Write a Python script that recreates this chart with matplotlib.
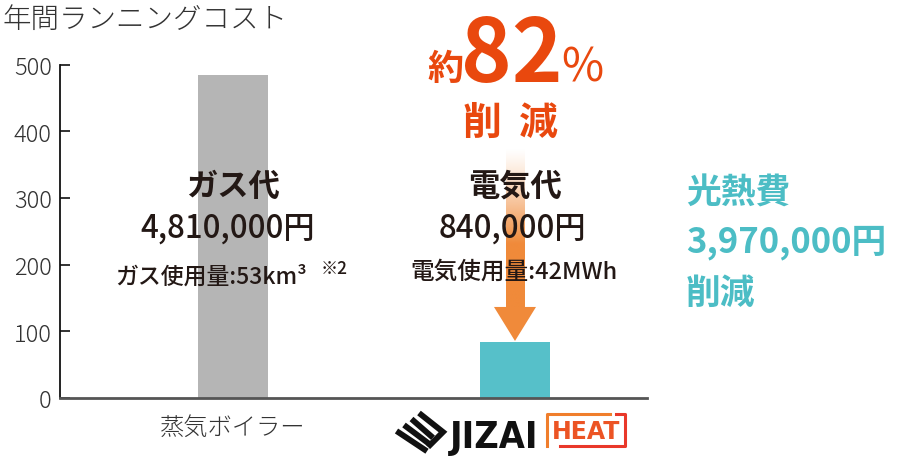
import matplotlib
matplotlib.use("Agg")
import matplotlib.pyplot as plt
import numpy as np
from matplotlib.patches import Polygon
from matplotlib.lines import Line2D

plt.rcParams['font.family'] = ['Noto Sans CJK JP', 'DejaVu Sans']

# ---- data ----
categories = ['蒸気ボイラー', 'JIZAI HEAT']
costs = [485, 84]              # 年間ランニングコスト (万円)
bar_colors = ['#b5b5b5', '#56c0c9']
yticks = [0, 100, 200, 300, 400, 500]
title = '年間ランニングコスト'
bar_titles = ['ガス代', '電気代']
bar_amounts = ['4,810,000円', '840,000円']
bar_usage = ['ガス使用量:53km³', '電気使用量:42MWh']
reduction_pct = '82'
saving_lines = ['光熱費', '3,970,000円', '削減']

W, H = 906, 460
fig = plt.figure(figsize=(W / 100, H / 100), dpi=100)

def P(x, y):
    return (x / W, 1 - y / H)

ax = fig.add_axes([60 / W, 1 - 399 / H, (647 - 60) / W, (399 - 65.5) / H])
x = np.arange(len(categories))
ax.bar(x, costs, width=0.25, color=bar_colors, zorder=2)
ax.set_xlim(-0.613, 1.468)
ax.set_ylim(0, 500)

for s in ['top', 'right']:
    ax.spines[s].set_visible(False)
ax.spines['left'].set_bounds(0, 500)
ax.spines['left'].set_linewidth(1.3)
ax.spines['left'].set_color('#111111')
ax.spines['bottom'].set_linewidth(2)
ax.spines['bottom'].set_color('#555555')
ax.spines['bottom'].set_zorder(3)

ax.set_yticks(yticks)
ax.tick_params(axis='y', direction='in', length=7, width=1.2, color='#111111',
               pad=6, labelsize=17, labelcolor='#333333')
for lab in ax.get_yticklabels():
    lab.set_fontweight('light')
ax.set_xticks([0, 1], [categories[0], ''])
ax.tick_params(axis='x', length=0, pad=12, labelsize=17.5, labelcolor='#333333')
for lab in ax.get_xticklabels():
    lab.set_fontweight('light')

# arrow (gradient shaft + head)
shaft_top = 373
head_base = 136
tip = costs[1] + 1.5
N = 200
grad = np.zeros((N, 1, 4))
grad[..., 0] = 0xf0 / 255
grad[..., 1] = 0x8a / 255
grad[..., 2] = 0x3a / 255
t = np.linspace(0, 1, N)
grad[:, 0, 3] = np.clip(t / 0.6, 0, 1) ** 1.2
ax.imshow(grad, extent=[1 - 0.032, 1 + 0.032, head_base, shaft_top],
          aspect='auto', origin='upper', zorder=3, interpolation='bilinear')
ax.add_patch(Polygon([(1 - 0.0745, head_base + 0.5), (1 + 0.0745, head_base + 0.5), (1, tip)],
                     closed=True, color='#f08a3a', zorder=3, lw=0))
ax.set_xlim(-0.613, 1.468)
ax.set_ylim(0, 500)

txt = '#231815'
# bar labels
ax.text(0, 318, bar_titles[0], ha='center', va='center', fontsize=22.5, fontweight='bold', color=txt, zorder=5)
ax.text(1, 318, bar_titles[1], ha='center', va='center', fontsize=22.5, fontweight='bold', color=txt, zorder=5)
ax.text(-0.02, 256, bar_amounts[0], ha='center', va='center', fontsize=22.5, fontweight='medium', color=txt, zorder=5)
ax.text(0.99, 256, bar_amounts[1], ha='center', va='center', fontsize=22.5, fontweight='medium', color=txt, zorder=5)

fig.text(*P(211, 277), bar_usage[0], ha='center', va='center', fontsize=16.5, fontweight='medium', color=txt, zorder=5)
fig.text(*P(321, 269), '※2', ha='left', va='center', fontsize=12.5, fontweight='medium', color=txt, zorder=5)
fig.text(*P(514, 272), bar_usage[1], ha='center', va='center', fontsize=17, fontweight='medium', color=txt, zorder=5)

# title
fig.text(*P(3, 20), title, ha='left', va='center', fontsize=20.5, fontweight='light', color='#333333')

# reduction
red = '#e9480e'
fig.text(*P(445, 80), '約', ha='center', va='baseline', fontsize=26, fontweight='bold', color=red)
fig.text(*P(512, 82), reduction_pct, ha='center', va='baseline', fontsize=62, fontweight='bold', color=red)
fig.text(*P(582, 82), '%', ha='center', va='baseline', fontsize=33, fontweight='normal', color=red)
fig.text(*P(482, 123), '削', ha='center', va='center', fontsize=28, fontweight='bold', color=red)
fig.text(*P(538, 123), '減', ha='center', va='center', fontsize=28, fontweight='bold', color=red)

# saving text
teal = '#4cbdc5'
for yy, s in zip([193, 243, 293], saving_lines):
    fig.text(*P(686, yy), s, ha='left', va='center', fontsize=25, fontweight='bold', color=teal)

# logo: chevron icon
for k in range(4):
    d = k * 7.5
    if k == 0:
        pts = [P(419, 414), P(443, 433), P(428, 448)]
    else:
        pts = [P(419 - d, 414 + d * 0.8), P(436 - d * 0.4, 432 + d * 0.9)]
    xs_, ys_ = zip(*pts)
    fig.add_artist(Line2D(xs_, ys_, transform=fig.transFigure, color='#111111', lw=4.2,
                          solid_capstyle='butt', solid_joinstyle='miter'))

fig.text(*P(450, 448), 'JIZAI', ha='left', va='baseline', fontsize=27, fontweight='bold',
         color='#111111', family=['DejaVu Sans'], fontstretch='condensed')

# HEAT box
x0, y0 = P(547, 447)
x1, y1 = P(625, 415)
fig.add_artist(Line2D([x0, x0, 610 / W], [y0, y1, y1], transform=fig.transFigure, color='#f07e2c', lw=2.2))
fig.add_artist(Line2D([616 / W, x1, x1, 560 / W], [y1, y1, y0, y0], transform=fig.transFigure, color='#e9382a', lw=2.2))
fig.text(*P(586, 432), 'HEAT', ha='center', va='center', fontsize=17, fontweight='bold',
         color='#ec5424', family=['DejaVu Sans'])

fig.savefig('out.png', dpi=100)
